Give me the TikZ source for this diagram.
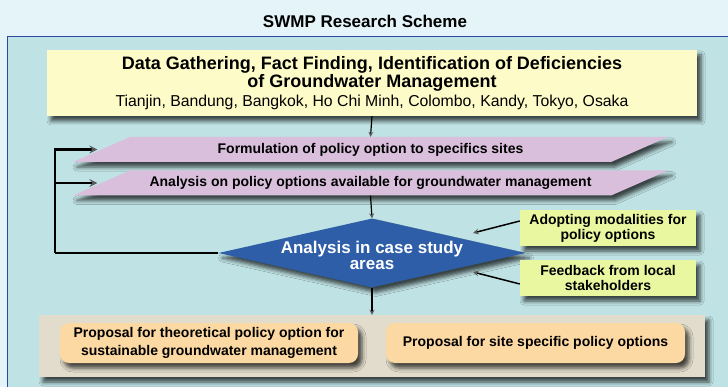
\documentclass[tikz,border=0pt]{standalone}
\usepackage{fontspec}
\setmainfont{Liberation Sans}
\usepackage{xcolor}
\usetikzlibrary{shapes.geometric,shadows.blur}

\definecolor{bgblue}{HTML}{E4F4F8}
\definecolor{framefill}{HTML}{BFE2E4}
\definecolor{frameline}{HTML}{2B4A9E}
\definecolor{datayellow}{HTML}{FDFCC8}
\definecolor{lilac}{HTML}{D9BFDC}
\definecolor{caseblue}{HTML}{2E5EA8}
\definecolor{limegreen}{HTML}{E9F7A0}
\definecolor{propgrey}{HTML}{E1DCCB}
\definecolor{peach}{HTML}{FCD8A2}

\begin{document}
\begin{tikzpicture}[x=1pt,y=-1pt,
  shad/.style={blur shadow={shadow xshift=4pt,shadow yshift=-5pt,shadow blur radius=4pt,shadow opacity=70}},
  txt/.style={font=\fontsize{14}{15}\selectfont\bfseries,align=center,inner sep=0pt},
  parabox/.style={minimum width=538pt,minimum height=25pt,txt},
  sidebox/.style={fill=limegreen,minimum width=176pt,minimum height=36pt,shad,txt},
  propbox/.style={fill=peach,rounded corners=9pt,minimum height=40pt,shad,txt,font=\fontsize{14}{17.5}\selectfont\bfseries},
  arr/.style={-stealth,line width=1.2pt},
  fb/.style={-stealth,line width=2.4pt}]
\useasboundingbox (0,0) rectangle (728,387);
\fill[bgblue] (0,0) rectangle (728,387);
\draw[frameline,fill=framefill,line width=0.8pt] (7,36) rectangle (740,400);
\node at (365,21) [font=\fontsize{17}{19}\selectfont\bfseries] (title) {SWMP Research Scheme};

% data gathering
\node at (372,83) [fill=datayellow,minimum width=650pt,minimum height=66pt,shad,align=center,inner sep=0pt,
  font=\fontsize{18}{18.5}\selectfont\bfseries] (data)
  {Data Gathering, Fact Finding, Identification of Deficiencies\\of Groundwater Management\\
   \fontsize{15.8}{18.5}\selectfont\mdseries Tianjin, Bandung, Bangkok, Ho Chi Minh, Colombo, Kandy, Tokyo, Osaka};

% policy options
\foreach \y in {149.5,183}
  \fill[lilac,shad] (73,\y+12.5) -- (130,\y-12.5) -- (668,\y-12.5) -- (611,\y+12.5) -- cycle;
\node at (370.5,149.5) [parabox] (form) {Formulation of policy option to specifics sites};
\node at (370.5,183) [parabox] (avail) {Analysis on policy options available for groundwater management};

% case study
\node at (372,253) [diamond,fill=caseblue,minimum width=307pt,minimum height=69pt,inner sep=0pt,shad,
  label={[text=white,align=center,yshift=-2pt,font=\fontsize{17}{16}\selectfont\bfseries]center:Analysis in case study\\areas}] (case) {};
\node at (608,228) [sidebox] (adopt) {Adopting modalities for\\policy options};
\node at (608,278) [sidebox] (feed) {Feedback from local\\stakeholders};

% proposals
\node at (372,346) [fill=propgrey,minimum width=666pt,minimum height=62pt,shad] (prop) {};
\node at (209,343) [propbox,minimum width=298pt] (theory) {Proposal for theoretical policy option for\\sustainable groundwater management};
\node at (535.5,343) [propbox,minimum width=299pt] (site) {Proposal for site specific policy options};

% connectors
\draw[arr] (data.south) -- (form.north);
\draw[arr] (avail.south) -- (case.north);
\draw[arr] (case.south) -- (prop.north);
\coordinate (bend) at (55,253);
\coordinate (toadopt) at (473,233);
\coordinate (tofeed) at (473,272);
\draw[line width=2.4pt] (case.west) -- (bend);
\draw[fb,shorten >=4pt] (bend) |- (form.west);
\draw[fb,shorten >=4pt] (bend) |- (avail.west);
\draw[arr,line width=1.5pt] ([yshift=7pt]adopt.west) -- (toadopt);
\draw[arr,line width=1.5pt] ([yshift=-6pt]feed.west) -- (tofeed);
\end{tikzpicture}
\end{document}
